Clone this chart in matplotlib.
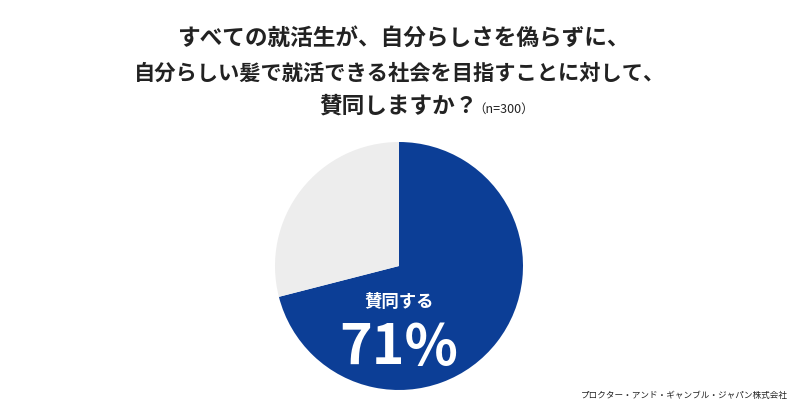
import matplotlib
matplotlib.use("Agg")
import matplotlib.pyplot as plt

plt.rcParams['font.family'] = ['Noto Sans CJK JP', 'DejaVu Sans']

labels = ["賛同する", "賛同しない"]
values = [71, 29]
colors = ["#0c3e96", "#ededed"]
title_lines = ["すべての就活生が、自分らしさを偽らずに、",
               "自分らしい髪で就活できる社会を目指すことに対して、",
               "賛同しますか？"]
sample_note = "（n=300）"
source = "プロクター・アンド・ギャンブル・ジャパン株式会社"

fig = plt.figure(figsize=(8, 4.19), dpi=100)
fig.patch.set_facecolor("white")

ax = fig.add_axes([275/800, 29/419, 248/800, 248/419])
ax.pie(values, colors=colors, startangle=90, counterclock=False, radius=1.0,
       wedgeprops=dict(linewidth=0))
ax.set_xlim(-1, 1)
ax.set_ylim(-1, 1)
ax.set_aspect("equal")
ax.axis("off")

# label inside blue wedge
ax.text(0, -0.29, labels[0], ha="center", va="center", color="white",
        fontsize=12.5, fontweight="bold")
ax.text(0, -0.665, f"{values[0]}%", ha="center", va="center", color="white",
        fontsize=40, fontweight="bold")

title_color = "#222222"
fig.text(403/800, 1 - 38/419, title_lines[0], ha="center", va="center",
         fontsize=16.3, fontweight="bold", color=title_color)
fig.text(400/800, 1 - 73/419, title_lines[1], ha="center", va="center",
         fontsize=15.3, fontweight="bold", color=title_color)
fig.text(398/800, 1 - 106/419, title_lines[2], ha="center", va="center",
         fontsize=16.3, fontweight="bold", color=title_color)
fig.text(473/800, 1 - 109/419, sample_note, ha="left", va="center",
         fontsize=9, color=title_color)

fig.text(788/800, 1 - 395/419, source, ha="right", va="center",
         fontsize=6.2, color=title_color)

fig.savefig("out.png", dpi=100, facecolor="white")
